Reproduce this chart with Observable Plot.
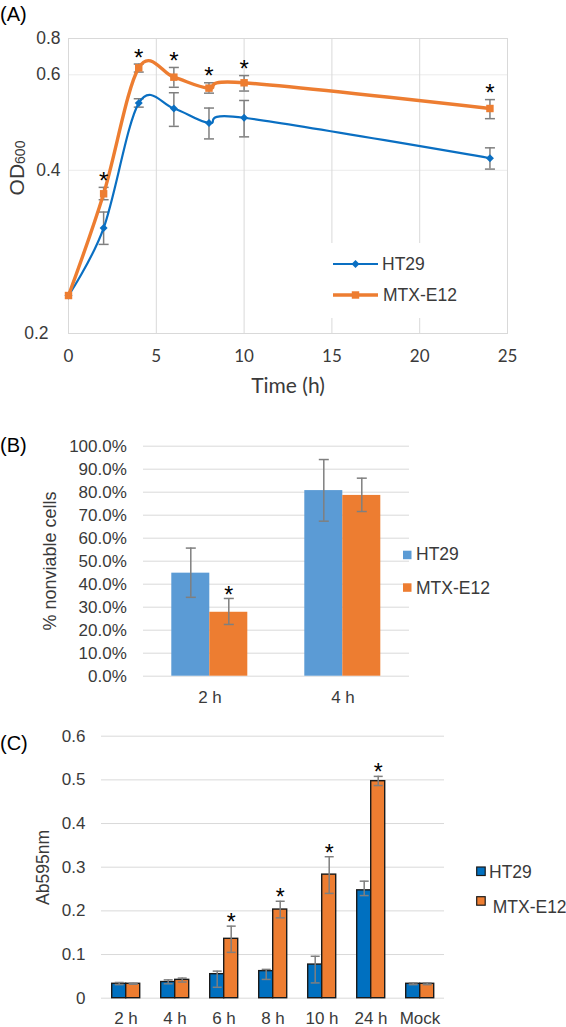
<!DOCTYPE html>
<html><head><meta charset="utf-8">
<script src="https://cdn.jsdelivr.net/npm/d3@7"></script>
<script src="https://cdn.jsdelivr.net/npm/@observablehq/plot@0.6"></script>
<style>
body{margin:0;background:#fff;}
#wrap{position:relative;width:566px;height:1027px;overflow:hidden;background:#fff;}
</style></head><body><div id="wrap"></div>
<script>
// ---------- Panel A data (OD600 over time, log axis) ----------
const aSeries = ["HT29", "MTX-E12"];
const aTime = [0, 2, 4, 6, 8, 10, 24];
const aHT29   = [0.235, 0.313, 0.532, 0.520, 0.489, 0.500, 0.421];
const aHT29Lo = [0.235, 0.292, 0.523, 0.482, 0.457, 0.461, 0.402];
const aHT29Hi = [0.235, 0.335, 0.542, 0.556, 0.521, 0.538, 0.440];
const aMTX    = [0.235, 0.362, 0.618, 0.594, 0.567, 0.580, 0.520];
const aMTXLo  = [0.235, 0.353, 0.607, 0.569, 0.555, 0.560, 0.498];
const aMTXHi  = [0.235, 0.372, 0.628, 0.619, 0.580, 0.598, 0.540];
const aMTXStar = [false, true, true, true, true, true, true];
const aXTicks = [0, 5, 10, 15, 20, 25];
const aYTicks = [0.2, 0.4, 0.6, 0.7];
const aYTickLabels = ["0.2", "0.4", "0.6", "0.8"];

// ---------- Panel B data (% nonviable cells) ----------
const bTimes = ["2 h", "4 h"];
const bSeries = ["HT29", "MTX-E12"];
const bHT29   = [0.448, 0.807];
const bHT29Lo = [0.343, 0.674];
const bHT29Hi = [0.557, 0.942];
const bMTX    = [0.278, 0.786];
const bMTXLo  = [0.225, 0.716];
const bMTXHi  = [0.338, 0.861];
const bMTXStar = [true, false];
const bYTicks = [0, 0.1, 0.2, 0.3, 0.4, 0.5, 0.6, 0.7, 0.8, 0.9, 1.0];

// ---------- Panel C data (Ab595nm) ----------
const cTimes = ["2 h", "4 h", "6 h", "8 h", "10 h", "24 h", "Mock"];
const cSeries = ["HT29", "MTX-E12"];
const cHT29   = [0.033, 0.037, 0.055, 0.062, 0.077, 0.247, 0.033];
const cHT29Lo = [0.031, 0.033, 0.025, 0.043, 0.035, 0.235, 0.031];
const cHT29Hi = [0.036, 0.042, 0.062, 0.066, 0.096, 0.268, 0.035];
const cMTX    = [0.033, 0.042, 0.136, 0.203, 0.283, 0.497, 0.033];
const cMTXLo  = [0.032, 0.037, 0.105, 0.184, 0.240, 0.487, 0.031];
const cMTXHi  = [0.034, 0.046, 0.165, 0.222, 0.324, 0.508, 0.035];
const cMTXStar = [false, false, true, true, true, true, false];
const cYTicks = [0, 0.1, 0.2, 0.3, 0.4, 0.5, 0.6];

// ---------- styles ----------
const blueA = "#0a6fc2", orange = "#ED7D31", blueB = "#5B9BD5", blueC = "#0070C0";
const errGray = "#7f7f7f", gridGray = "#d9d9d9", textGray = "#3a3a3a";
const sans = "'Liberation Sans', Arial, sans-serif";
const capSymbol = {draw(ctx, size) { const w = Math.sqrt(size / Math.PI); ctx.moveTo(-w, 0); ctx.lineTo(w, 0); }};

const wrap = document.getElementById("wrap");
function place(el, top) {
  el.style.position = "absolute"; el.style.left = "0px"; el.style.top = top + "px";
  el.style.background = "transparent";
  wrap.appendChild(el);
  return d3.select(el.tagName.toLowerCase() === "svg" ? el : el.querySelector("svg"));
}
function label(svg, x, y, txt, opts = {}) {
  const t = svg.append("text").attr("x", x).attr("y", y).attr("dy", "0.35em")
    .attr("font-family", opts.family || sans).attr("font-size", opts.size || 17.5)
    .attr("fill", opts.fill || textGray).attr("text-anchor", opts.anchor || "start").text(txt);
  if (opts.rotate) t.attr("x", null).attr("y", null).attr("transform", `translate(${x},${y}) rotate(-90)`);
  return t;
}

// ---------- Panel A ----------
const rowsA = [];
aTime.forEach((t, i) => rowsA.push({series: aSeries[0], t, v: aHT29[i], lo: aHT29Lo[i], hi: aHT29Hi[i], star: false}));
aTime.forEach((t, i) => rowsA.push({series: aSeries[1], t, v: aMTX[i], lo: aMTXLo[i], hi: aMTXHi[i], star: aMTXStar[i]}));
const aYRows = aYTicks.map((v, i) => ({v, label: aYTickLabels[i], i}));
const isH = d => d.series === aSeries[0], isM = d => d.series === aSeries[1];
const hasErr = d => d.hi > d.lo;

const plotA = Plot.plot({
  width: 566, height: 410, marginLeft: 68, marginRight: 59, marginTop: 38, marginBottom: 77,
  style: {fontFamily: sans, fontSize: "17.5px", color: textGray, background: "transparent", overflow: "visible"},
  x: {domain: [0, 25], axis: null},
  y: {type: "log", domain: [0.2, 0.7], axis: null},
  marks: [
    Plot.ruleY(aYTicks.slice(1, 3), {stroke: "#ebebeb"}),
    Plot.ruleX(aXTicks.slice(1, 5), {stroke: gridGray}),
    Plot.frame({stroke: gridGray}),
    Plot.text(aXTicks, {x: d => d, frameAnchor: "bottom", dy: 28, fontFamily: "Lato", fontSize: 17, fill: textGray, text: d => String(d)}),
    Plot.text(["Time (h)"], {frameAnchor: "bottom", dy: 59, fontFamily: "Lato", fontSize: 21, fill: textGray, text: d => d}),
    Plot.text(aYRows, {filter: d => d.i > 0, y: "v", frameAnchor: "left", dx: -8, textAnchor: "end", fill: textGray, text: "label"}),
    Plot.text(aYRows, {filter: d => d.i === 0, y: "v", frameAnchor: "left", dx: -20, textAnchor: "end", fill: textGray, text: "label"}),
    // HT29
    Plot.ruleX(rowsA, {filter: d => isH(d) && hasErr(d), x: "t", y1: "lo", y2: "hi", stroke: errGray, strokeWidth: 1.5}),
    Plot.dot(rowsA, {filter: d => isH(d) && hasErr(d), x: "t", y: "hi", symbol: capSymbol, r: 5, stroke: errGray, strokeWidth: 1.5}),
    Plot.dot(rowsA, {filter: d => isH(d) && hasErr(d), x: "t", y: "lo", symbol: capSymbol, r: 5, stroke: errGray, strokeWidth: 1.5}),
    Plot.line(rowsA, {filter: isH, x: "t", y: "v", stroke: blueA, strokeWidth: 2.2, curve: "cardinal"}),
    Plot.dot(rowsA, {filter: isH, x: "t", y: "v", symbol: "diamond2", r: 3.6, fill: blueA}),
    // MTX-E12
    Plot.ruleX(rowsA, {filter: d => isM(d) && hasErr(d), x: "t", y1: "lo", y2: "hi", stroke: errGray, strokeWidth: 1.5}),
    Plot.dot(rowsA, {filter: d => isM(d) && hasErr(d), x: "t", y: "hi", symbol: capSymbol, r: 5, stroke: errGray, strokeWidth: 1.5}),
    Plot.dot(rowsA, {filter: d => isM(d) && hasErr(d), x: "t", y: "lo", symbol: capSymbol, r: 5, stroke: errGray, strokeWidth: 1.5}),
    Plot.line(rowsA, {filter: isM, x: "t", y: "v", stroke: orange, strokeWidth: 3.4, curve: "cardinal"}),
    Plot.dot(rowsA, {filter: isM, x: "t", y: "v", symbol: "square", r: 4.2, fill: orange}),
    Plot.text(rowsA, {filter: d => d.star, x: "t", y: "hi", text: d => "*", dy: -6, fontSize: 24, fill: "#000"})
  ]
});
const svgA = place(plotA, 0);
label(svgA, 0, 14, "(A)", {size: 20, fill: "#000"});
{
  const t = svgA.append("text").attr("transform", "translate(17,168) rotate(-90)")
    .attr("text-anchor", "middle").attr("font-family", sans).attr("fill", textGray);
  t.append("tspan").attr("font-size", 21).attr("dy", "0.35em").text("OD");
  t.append("tspan").attr("font-size", 14).attr("dy", 1).text("600");
  const lg = svgA.append("g");
  lg.append("rect").attr("x", 322).attr("y", 243).attr("width", 150).attr("height", 75).attr("fill", "#fff");
  lg.append("line").attr("x1", 333).attr("x2", 378).attr("y1", 264).attr("y2", 264).attr("stroke", blueA).attr("stroke-width", 2.2);
  lg.append("path").attr("transform", "translate(355.5,264)").attr("d", d3.symbol(d3.symbolDiamond2, 3.6 * 3.6 * Math.PI)()).attr("fill", blueA);
  lg.append("line").attr("x1", 333).attr("x2", 378).attr("y1", 295).attr("y2", 295).attr("stroke", orange).attr("stroke-width", 3.4);
  lg.append("path").attr("transform", "translate(355.5,295)").attr("d", d3.symbol(d3.symbolSquare, 4.2 * 4.2 * Math.PI)()).attr("fill", orange);
  label(lg, 382, 264, aSeries[0]);
  label(lg, 383, 295, aSeries[1]);
}

// ---------- Panel B ----------
const rowsB = [];
bTimes.forEach((time, i) => rowsB.push({time, series: bSeries[0], v: bHT29[i], lo: bHT29Lo[i], hi: bHT29Hi[i], star: false}));
bTimes.forEach((time, i) => rowsB.push({time, series: bSeries[1], v: bMTX[i], lo: bMTXLo[i], hi: bMTXHi[i], star: bMTXStar[i]}));
const plotB = Plot.plot({
  width: 566, height: 300, marginLeft: 142.7, marginRight: 156, marginTop: 25.7, marginBottom: 44.3,
  style: {fontFamily: sans, fontSize: "17px", color: textGray, background: "transparent", overflow: "visible"},
  facet: {data: rowsB, x: "time", label: null},
  fx: {domain: bTimes, padding: 0, tickSize: 0, tickPadding: 15, label: null},
  x: {domain: bSeries, paddingInner: 0, paddingOuter: 0.75, axis: null},
  y: {domain: [0, 1], ticks: bYTicks, tickFormat: d3.format(".1%"), tickSize: 0, tickPadding: 16.7, label: null},
  color: {domain: bSeries, range: [blueB, orange]},
  marks: [
    Plot.ruleY(bYTicks, {stroke: gridGray}),
    Plot.barY(rowsB, {x: "series", y: "v", fill: "series"}),
    Plot.ruleX(rowsB, {x: "series", y1: "lo", y2: "hi", stroke: errGray, strokeWidth: 1.5}),
    Plot.dot(rowsB, {x: "series", y: "hi", symbol: capSymbol, r: 5, stroke: errGray, strokeWidth: 1.5}),
    Plot.dot(rowsB, {x: "series", y: "lo", symbol: capSymbol, r: 5, stroke: errGray, strokeWidth: 1.5}),
    Plot.text(rowsB, {filter: d => d.star, x: "series", y: "hi", text: d => "*", dy: -3, fontSize: 23, fill: "#000"})
  ]
});
const svgB = place(plotB, 420);
label(svgB, 0, 25, "(B)", {size: 20, fill: "#000"});
label(svgB, 50, 141, "% nonviable cells", {size: 18, anchor: "middle", rotate: true});
svgB.append("rect").attr("x", 403).attr("y", 130.7).attr("width", 8.5).attr("height", 8.5).attr("fill", blueB);
svgB.append("rect").attr("x", 403).attr("y", 163.3).attr("width", 8.5).attr("height", 8.5).attr("fill", orange);
label(svgB, 416, 134.3, bSeries[0]);
label(svgB, 416, 167.7, bSeries[1]);

// ---------- Panel C ----------
const rowsC = [];
cTimes.forEach((time, i) => rowsC.push({time, series: cSeries[0], v: cHT29[i], lo: cHT29Lo[i], hi: cHT29Hi[i], star: false}));
cTimes.forEach((time, i) => rowsC.push({time, series: cSeries[1], v: cMTX[i], lo: cMTXLo[i], hi: cMTXHi[i], star: cMTXStar[i]}));
const plotC = Plot.plot({
  width: 566, height: 307, marginLeft: 99.3, marginRight: 120.3, marginTop: 15.7, marginBottom: 29.3,
  style: {fontFamily: sans, fontSize: "17px", color: textGray, background: "transparent", overflow: "visible"},
  facet: {data: rowsC, x: "time", label: null},
  fx: {domain: cTimes, padding: 0, tickSize: 0, tickPadding: 14, label: null},
  x: {domain: cSeries, paddingInner: 0, paddingOuter: 0.68, axis: null},
  y: {domain: [0, 0.6], ticks: cYTicks, tickFormat: d => String(d), tickSize: 0, tickPadding: 16, label: null},
  color: {domain: cSeries, range: [blueC, orange]},
  marks: [
    Plot.ruleY(cYTicks, {stroke: gridGray}),
    Plot.barY(rowsC, {x: "series", y: "v", fill: "series", stroke: "#1a1a1a", strokeWidth: 1.4}),
    Plot.ruleX(rowsC, {x: "series", y1: "lo", y2: "hi", stroke: errGray, strokeWidth: 1.5}),
    Plot.dot(rowsC, {x: "series", y: "hi", symbol: capSymbol, r: 4.5, stroke: errGray, strokeWidth: 1.5}),
    Plot.dot(rowsC, {x: "series", y: "lo", symbol: capSymbol, r: 4.5, stroke: errGray, strokeWidth: 1.5}),
    Plot.text(rowsC, {filter: d => d.star, x: "series", y: "hi", text: d => "*", dy: -3.5, fontSize: 23, fill: "#000"})
  ]
});
const svgC = place(plotC, 720);
label(svgC, 0, 22.7, "(C)", {size: 20, fill: "#000"});
label(svgC, 43.3, 147.5, "Ab595nm", {size: 17.5, anchor: "middle", rotate: true});
svgC.append("rect").attr("x", 476.7).attr("y", 147).attr("width", 8.5).attr("height", 8.5).attr("fill", blueC).attr("stroke", "#1a1a1a").attr("stroke-width", 1.2);
svgC.append("rect").attr("x", 476.7).attr("y", 176.7).attr("width", 8.5).attr("height", 8.5).attr("fill", orange).attr("stroke", "#1a1a1a").attr("stroke-width", 1.2);
label(svgC, 489, 151.7, cSeries[0]);
label(svgC, 492.7, 186.7, cSeries[1]);
</script></body></html>
